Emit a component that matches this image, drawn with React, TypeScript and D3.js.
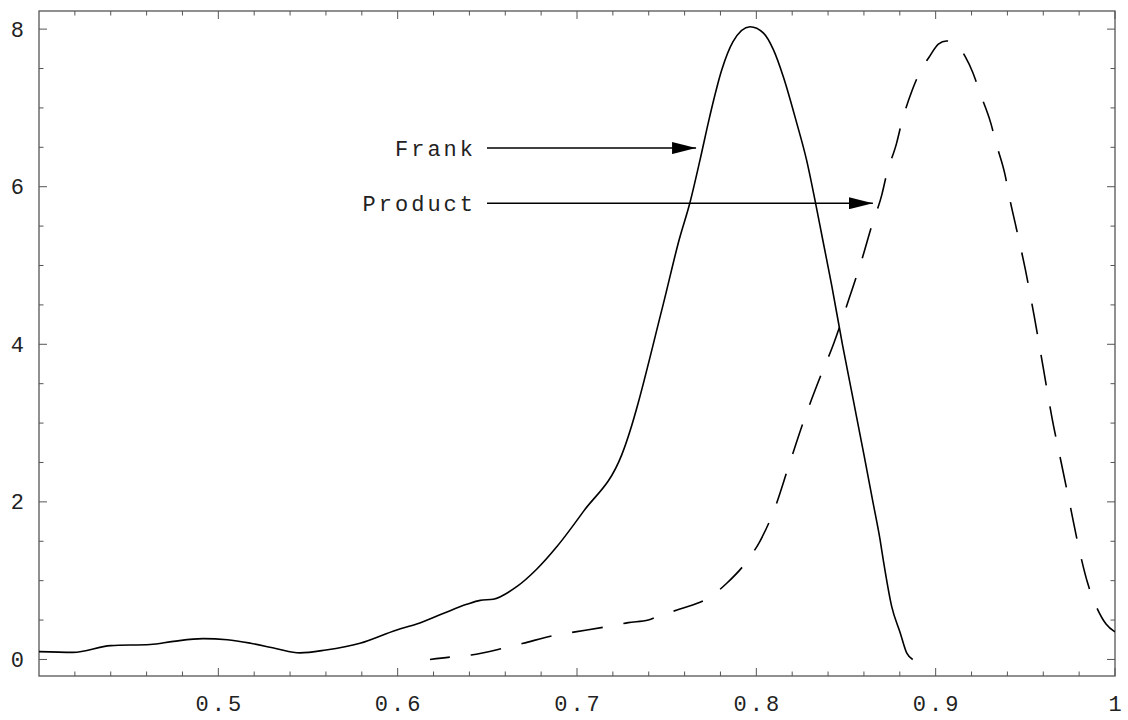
import React from 'react';
import * as d3 from 'd3';

// Frank copula density (solid)
const frankX = [0.4, 0.419, 0.44, 0.462, 0.475, 0.4915, 0.505, 0.518, 0.532, 0.5455, 0.56, 0.579, 0.5995, 0.6106, 0.625, 0.6385, 0.646, 0.6533, 0.6664, 0.6775, 0.6887, 0.7033, 0.725, 0.748, 0.757, 0.763, 0.7686, 0.774, 0.7807, 0.787, 0.7965, 0.804, 0.8095, 0.815, 0.8225, 0.828, 0.8327, 0.837, 0.842, 0.848, 0.854, 0.86, 0.865, 0.869, 0.8708, 0.8755, 0.8802, 0.8839, 0.8872];
const frankY = [0.1, 0.09, 0.175, 0.19, 0.23, 0.264, 0.25, 0.206, 0.14, 0.083, 0.12, 0.206, 0.375, 0.45, 0.58, 0.7, 0.75, 0.764, 0.924, 1.145, 1.43, 1.87, 2.6, 4.5, 5.33, 5.8, 6.34, 6.89, 7.48, 7.84, 8.03, 7.95, 7.74, 7.4, 6.81, 6.34, 5.83, 5.33, 4.75, 4.0, 3.3, 2.6, 2.0, 1.52, 1.26, 0.67, 0.34, 0.08, 0.0];

// Product copula density (dashed)
const productX = [0.618, 0.629, 0.641, 0.658, 0.67, 0.6877, 0.699, 0.7166, 0.7286, 0.7398, 0.746, 0.7574, 0.774, 0.7835, 0.7955, 0.802, 0.81, 0.818, 0.826, 0.835, 0.843, 0.852, 0.8585, 0.8643, 0.87, 0.8727, 0.8783, 0.881, 0.887, 0.8913, 0.8965, 0.9015, 0.906, 0.9117, 0.9165, 0.9207, 0.9247, 0.9307, 0.9337, 0.9387, 0.941, 0.945, 0.95, 0.955, 0.96, 0.965, 0.97, 0.975, 0.98, 0.985, 0.99, 0.995, 1.0];
const productY = [0.0, 0.03, 0.057, 0.137, 0.205, 0.307, 0.35, 0.416, 0.467, 0.5, 0.556, 0.64, 0.79, 0.967, 1.27, 1.5, 1.9, 2.45, 3.0, 3.55, 4.0, 4.6, 5.05, 5.5, 5.9, 6.16, 6.56, 6.81, 7.23, 7.46, 7.65, 7.81, 7.85, 7.81, 7.65, 7.45, 7.19, 6.81, 6.55, 6.15, 5.88, 5.47, 4.95, 4.35, 3.7, 3.05, 2.5, 1.95, 1.4, 0.95, 0.65, 0.45, 0.35];

const xTickLabels = [0.5, 0.6, 0.7, 0.8, 0.9, 1];
const yTickLabels = [0, 2, 4, 6, 8];

const labels = [
  { name: 'Frank', y: 6.49, tipX: 0.7664 },
  { name: 'Product', y: 5.79, tipX: 0.865 },
];

const W = 1128;
const H = 720;
const left = 39, right = 1115, top = 11, bottom = 676;

const App = () => {
  const x = d3.scaleLinear().domain([0.4, 1.0]).range([left, right]);
  const y = d3.scaleLinear().domain([-0.21, 8.23]).range([bottom, top]);

  const line = d3
    .line<[number, number]>()
    .x((d) => x(d[0]))
    .y((d) => y(d[1]))
    .curve(d3.curveMonotoneX);

  const frank = frankX.map((v, i) => [v, frankY[i]] as [number, number]);
  const product = productX.map((v, i) => [v, productY[i]] as [number, number]);

  const xMinor = d3.range(0.42, 1.0, 0.02).map((v) => +v.toFixed(2));
  const yMinor = d3.range(0, 8.01, 0.5);
  const isMajorX = (v: number) => Math.abs(v * 10 - Math.round(v * 10)) < 1e-6;
  const isMajorY = (v: number) => Math.abs(v / 2 - Math.round(v / 2)) < 1e-6;

  const font = '"Liberation Mono", "DejaVu Sans Mono", monospace';
  const axisColor = '#555';

  return (
    <svg width={W} height={H} style={{ position: 'absolute', left: 0, top: 0, background: '#fff' }}>
      <rect x={0} y={0} width={W} height={H} fill="#fff" />
      <defs>
        <clipPath id="plot">
          <rect x={left} y={top} width={right - left} height={bottom - top} />
        </clipPath>
        <marker id="arrow" viewBox="0 0 24 12" refX={24} refY={6} markerWidth={24} markerHeight={12} markerUnits="userSpaceOnUse" orient="auto">
          <path d="M0,0 L24,6 L0,12 Z" fill="#000" />
        </marker>
      </defs>

      {/* ticks on all four sides, pointing in */}
      <g stroke={axisColor} strokeWidth={1}>
        {xMinor.map((v) => {
          const len = isMajorX(v) ? 8 : 4.5;
          return (
            <g key={'x' + v}>
              <line x1={x(v)} x2={x(v)} y1={bottom} y2={bottom - len} />
              <line x1={x(v)} x2={x(v)} y1={top} y2={top + len} />
            </g>
          );
        })}
        {yMinor.map((v) => {
          const len = isMajorY(v) ? 8 : 4.5;
          return (
            <g key={'y' + v}>
              <line x1={left} x2={left + len} y1={y(v)} y2={y(v)} />
              <line x1={right} x2={right - len} y1={y(v)} y2={y(v)} />
            </g>
          );
        })}
      </g>

      <rect x={left} y={top} width={right - left} height={bottom - top} fill="none" stroke={axisColor} strokeWidth={1.3} />

      <g fontFamily={font} fontSize={22} fill="#222" letterSpacing={3}>
        {xTickLabels.map((v) => (
          <text key={'xl' + v} x={x(v) + 1.5} y={711} textAnchor="middle">
            {String(v)}
          </text>
        ))}
        {yTickLabels.map((v) => (
          <text key={'yl' + v} x={27} y={y(v) + 7.5} textAnchor="end">
            {String(v)}
          </text>
        ))}
      </g>

      <g clipPath="url(#plot)" fill="none" stroke="#000" strokeWidth={1.6}>
        <path d={line(frank) ?? ''} />
        <path d={line(product) ?? ''} strokeDasharray="31 21" strokeDashoffset={11} />
      </g>

      {labels.map((l) => (
        <g key={l.name}>
          <text x={476} y={y(l.y) + 7.5} textAnchor="end" fontFamily={font} fontSize={22} letterSpacing={3} fill="#222">
            {l.name}
          </text>
          <line x1={487} x2={x(l.tipX)} y1={y(l.y)} y2={y(l.y)} stroke="#000" strokeWidth={1.5} markerEnd="url(#arrow)" />
        </g>
      ))}
    </svg>
  );
};

export default App;
